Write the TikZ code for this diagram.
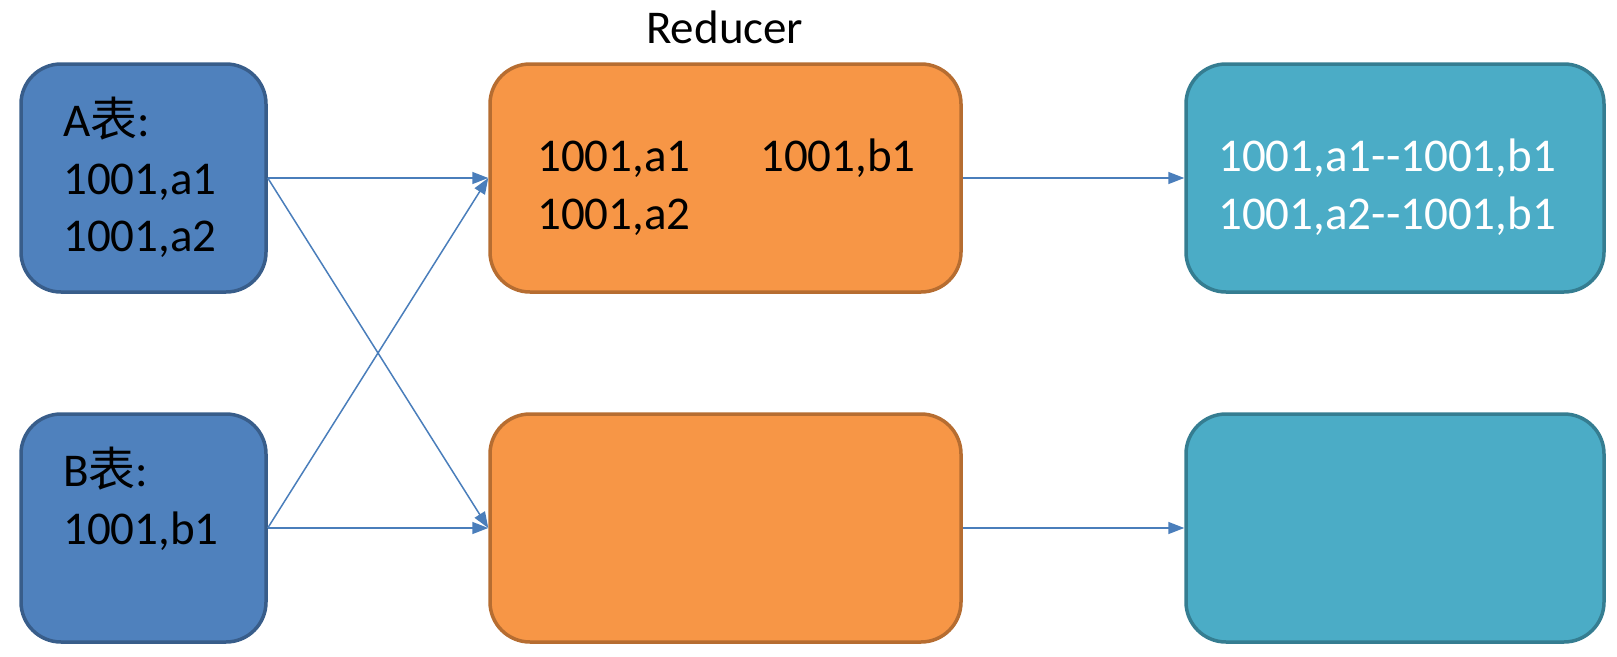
\documentclass[tikz,border=0pt]{standalone}
\usepackage{fontspec}
\setmainfont{Carlito}
\newfontfamily\cjk{Noto Sans CJK SC}
\usetikzlibrary{arrows.meta}
\definecolor{bluefill}{HTML}{4F81BD}
\definecolor{blueline}{HTML}{385D8A}
\definecolor{orfill}{HTML}{F79646}
\definecolor{orline}{HTML}{B66D31}
\definecolor{tefill}{HTML}{4BACC6}
\definecolor{teline}{HTML}{357D91}
\definecolor{arrowc}{HTML}{4A7EBB}
\tikzset{
  box/.style={rectangle, rounded corners=40pt, line width=3.5pt, inner sep=0pt},
  abox/.style={box, fill=bluefill, draw=blueline, minimum width=245pt, minimum height=228pt},
  obox/.style={box, fill=orfill, draw=orline, minimum width=471pt, minimum height=228pt},
  tbox/.style={box, fill=tefill, draw=teline, minimum width=418pt, minimum height=228pt},
  txt/.style={anchor=base west, inner sep=0pt, font=\fontsize{47}{57}\selectfont},
  conn/.style={draw=arrowc, line width=1.5pt, -{Triangle[length=16pt,width=12pt]}}
}
\begin{document}
\begin{tikzpicture}[x=1pt,y=-1pt]
\useasboundingbox (0,0) rectangle (1617,656);
\node[abox] (A) at (143.5,178) {};
\node[abox] (B) at (143.5,528) {};
\node[obox] (O1) at (725.5,178) {};
\node[obox] (O2) at (725.5,528) {};
\node[tbox] (T1) at (1395,178) {};
\node[tbox] (T2) at (1395,528) {};
\node[txt] (red) at (646,43) {Reducer};
\node[txt] (a0) at (63,136) {A{\cjk 表}:};
\node[txt] (a1) at (63,194) {1001,a1};
\node[txt] (a2) at (63,251) {1001,a2};
\node[txt] (b0) at (63,486) {B{\cjk 表}:};
\node[txt] (b1) at (63,544) {1001,b1};
\node[txt] (o1) at (537,171) {1001,a1};
\node[txt] (o2) at (537,229) {1001,a2};
\node[txt] (o3) at (760,171) {1001,b1};
\node[txt, text=white] (t1) at (1218,171) {1001,a1-{}-1001,b1};
\node[txt, text=white] (t2) at (1218,229) {1001,a2-{}-1001,b1};
\draw[conn] (A.east) -- (O1.west);
\draw[conn] (A.east) -- (O2.west);
\draw[conn] (B.east) -- (O1.west);
\draw[conn] (B.east) -- (O2.west);
\draw[conn] (O1.east) -- (T1.west);
\draw[conn] (O2.east) -- (T2.west);
\end{tikzpicture}
\end{document}
